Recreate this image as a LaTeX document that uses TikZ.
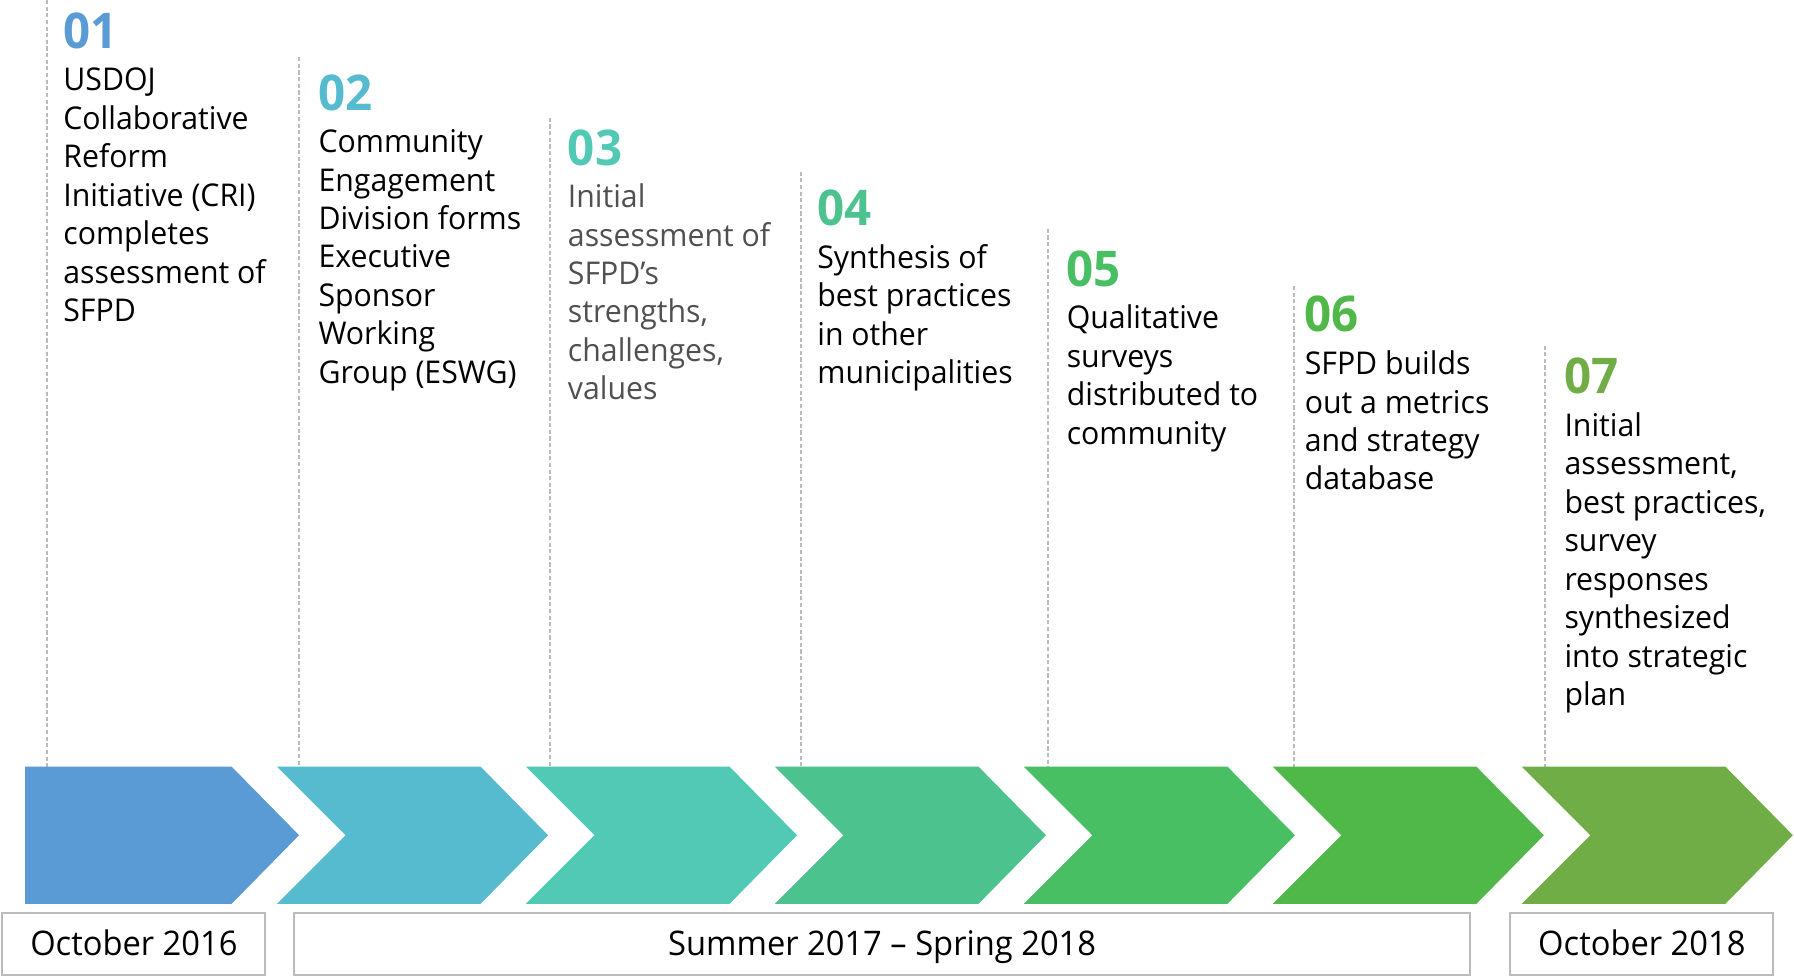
\documentclass[tikz,border=0pt]{standalone}
\usepackage{fontspec}
\setmainfont{Open Sans}[FakeStretch=0.965]
\definecolor{c1}{HTML}{5B9BD5}
\definecolor{c2}{HTML}{56BBCF}
\definecolor{c3}{HTML}{51C9B5}
\definecolor{c4}{HTML}{4CC38E}
\definecolor{c5}{HTML}{48BF63}
\definecolor{c6}{HTML}{4FB848}
\definecolor{c7}{HTML}{70AD47}
\definecolor{guide}{HTML}{BBBBBB}
\definecolor{greytext}{HTML}{505050}
\begin{document}
\begin{tikzpicture}[x=0.5pt,y=-0.5pt,
  desc/.style={anchor=north west, inner sep=0pt, align=left, font=\fontsize{13.7}{16.8}\selectfont},
  num/.style={anchor=base west, inner sep=0pt, font=\fontsize{21.5}{24}\selectfont\bfseries},
  guideline/.style={draw=guide, line width=0.9pt, dash pattern=on 1.8pt off 1.1pt},
  datebox/.style={draw=guide, line width=0.9pt, minimum height=27pt, inner sep=0pt, text height=10.4pt, text depth=0pt, font=\fontsize{14.8}{16}\selectfont}]
\useasboundingbox (0,0) rectangle (1568,853);

% dashed guide lines
\coordinate (t1) at (41,0);     \coordinate (b1) at (41,670);
\coordinate (t2) at (261,50);   \coordinate (b2) at (261,670);
\coordinate (t3) at (481,103);  \coordinate (b3) at (481,670);
\coordinate (t4) at (700,150);  \coordinate (b4) at (700,670);
\coordinate (t5) at (916,200);  \coordinate (b5) at (916,670);
\coordinate (t6) at (1131,250); \coordinate (b6) at (1131,670);
\coordinate (t7) at (1350,302); \coordinate (b7) at (1350,670);
\foreach \i in {1,...,7} \draw[guideline] (t\i) -- (b\i);

% arrows
\fill[c1] (22,670) -- (202.4,670) -- (261.4,730) -- (202.4,790) -- (22,790) -- cycle;
\foreach \x/\c in {242/c2, 459.6/c3, 677.2/c4, 894.8/c5, 1112.4/c6, 1330/c7}
  \fill[\c] (\x,670) -- ++(178,0) -- ++(59,60) -- ++(-59,60) -- ++(-178,0) -- ++(60,-60) -- cycle;

% numbers
\node[num, text=c1] (n1) at (55,42)   {01};
\node[num, text=c2] (n2) at (278,97)  {02};
\node[num, text=c3] (n3) at (496,145) {03};
\node[num, text=c4] (n4) at (714,197) {04};
\node[num, text=c5] (n5) at (932,250) {05};
\node[num, text=c6] (n6) at (1140,290) {06};
\node[num, text=c7] (n7) at (1367,344) {07};

% descriptions
\node[desc] (d1) at (55,58) {\rule{0pt}{10.5pt}USDOJ\\Collaborative\\Reform\\Initiative (CRI)\\completes\\assessment of\\SFPD};
\node[desc] (d2) at (278,112) {\rule{0pt}{10.5pt}Community\\Engagement\\Division forms\\Executive\\Sponsor\\Working\\Group (ESWG)};
\node[desc, text=greytext] (d3) at (496,160) {\rule{0pt}{10.5pt}Initial\\assessment of\\SFPD’s\\strengths,\\challenges,\\values};
\node[desc] (d4) at (714,213) {\rule{0pt}{10.5pt}Synthesis of\\best practices\\in other\\municipalities};
\node[desc] (d5) at (932,266) {\rule{0pt}{10.5pt}Qualitative\\surveys\\distributed to\\community};
\node[desc] (d6) at (1140,306) {\rule{0pt}{10.5pt}SFPD builds\\out a metrics\\and strategy\\database};
\node[desc] (d7) at (1367,360) {\rule{0pt}{10.5pt}Initial\\assessment,\\best practices,\\survey\\responses\\synthesized\\into strategic\\plan};

% date boxes
\node[datebox, minimum width=115pt] (date1) at (117,825) {October 2016};
\node[datebox, minimum width=514pt] (date2) at (771,825) {Summer 2017 – Spring 2018};
\node[datebox, minimum width=115pt] (date3) at (1435,825) {October 2018};
\end{tikzpicture}
\end{document}
